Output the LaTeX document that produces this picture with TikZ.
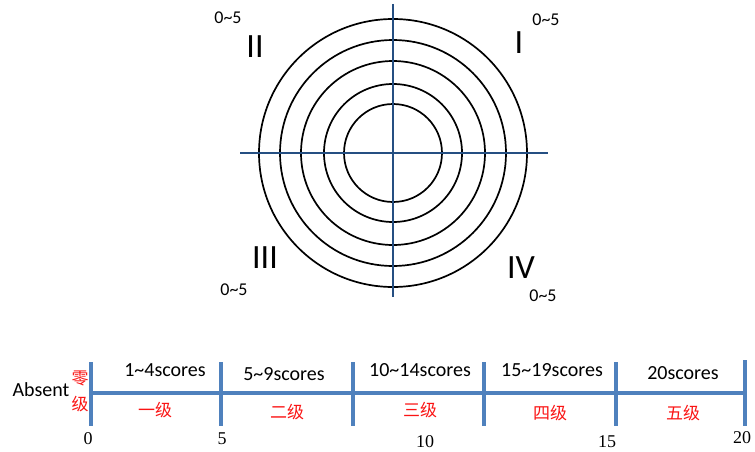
\documentclass[tikz,border=0pt]{standalone}
\usepackage{fontspec}
\setmainfont{Carlito}
\newfontfamily\cjk{Noto Sans CJK SC}
\newfontfamily\numfont{Liberation Serif}
\usetikzlibrary{positioning}

\definecolor{axisblue}{RGB}{79,129,189}
\definecolor{crossblue}{RGB}{37,79,130}
\definecolor{lvlred}{RGB}{250,20,20}

\begin{document}
\begin{tikzpicture}[x=1pt, y=-1pt,
    ring/.style={draw=black, line width=1.7pt},
    cross/.style={draw=crossblue, line width=1.2pt},
    scaleaxis/.style={draw=axisblue, line width=3.5pt},
    quad/.style={font=\fontsize{34}{34}\selectfont, inner sep=0pt},
    rangelbl/.style={font=\fontsize{18}{18}\selectfont, inner sep=0pt},
    score/.style={font=\fontsize{20}{20}\selectfont, inner sep=0pt},
    lvl/.style={font=\cjk\fontsize{17}{17}\selectfont, text=lvlred, inner sep=0pt},
    num/.style={font=\numfont\fontsize{18}{18}\selectfont, inner sep=0pt},
]
\useasboundingbox (0,0) rectangle (755,452);

% Circle centre
\def\cx{393}
\def\cy{153}

% ====== TARGET ======
\foreach \r in {134,113,92,69,49}
    \draw[ring] (\cx,\cy) circle (\r pt);
\draw[cross] (240,\cy) -- (548,\cy);
\draw[cross] (\cx,4) -- (\cx,297);

% Quadrant labels
\node[quad] (q1) at (519,43) {I};
\node[quad] (q2) at (255,47) {II};
\node[quad] (q3) at (265,258) {III};
\node[quad] (q4) at (521,268) {IV};

\node[rangelbl] (r1) at (546,20) {0\textasciitilde5};
\node[rangelbl] (r2) at (228,18) {0\textasciitilde5};
\node[rangelbl] (r3) at (234,290) {0\textasciitilde5};
\node[rangelbl] (r4) at (543,296) {0\textasciitilde5};

% ====== SCORE AXIS ======
\def\ay{393}
\draw[scaleaxis] (91,\ay) -- (745,\ay);
\foreach \x/\t in {91/362,221/362,353/362,484/362,616/362,745/360}
    \draw[scaleaxis] (\x,\t) -- (\x,426);

\node[score] (absent) at (41,390) {Absent};
\node[lvl] (zero1) at (80,378) {零};
\node[lvl] (zero2) at (80,404) {级};

\node[score] (s1) at (165,370) {1\textasciitilde4scores};
\node[score] (s2) at (284,374) {5\textasciitilde9scores};
\node[score] (s3) at (420,370) {10\textasciitilde14scores};
\node[score] (s4) at (552,370) {15\textasciitilde19scores};
\node[score] (s5) at (683,373) {20scores};

\node[lvl] (l1) at (155,410) {一级};
\node[lvl] (l2) at (287,412) {二级};
\node[lvl] (l3) at (420,410) {三级};
\node[lvl] (l4) at (550,413) {四级};
\node[lvl] (l5) at (683,413) {五级};

\node[num] (n0) at (88,439) {0};
\node[num] (n5) at (222,439) {5};
\node[num] (n10) at (425,442) {10};
\node[num] (n15) at (607,442) {15};
\node[num] (n20) at (742,438) {20};

\end{tikzpicture}
\end{document}
